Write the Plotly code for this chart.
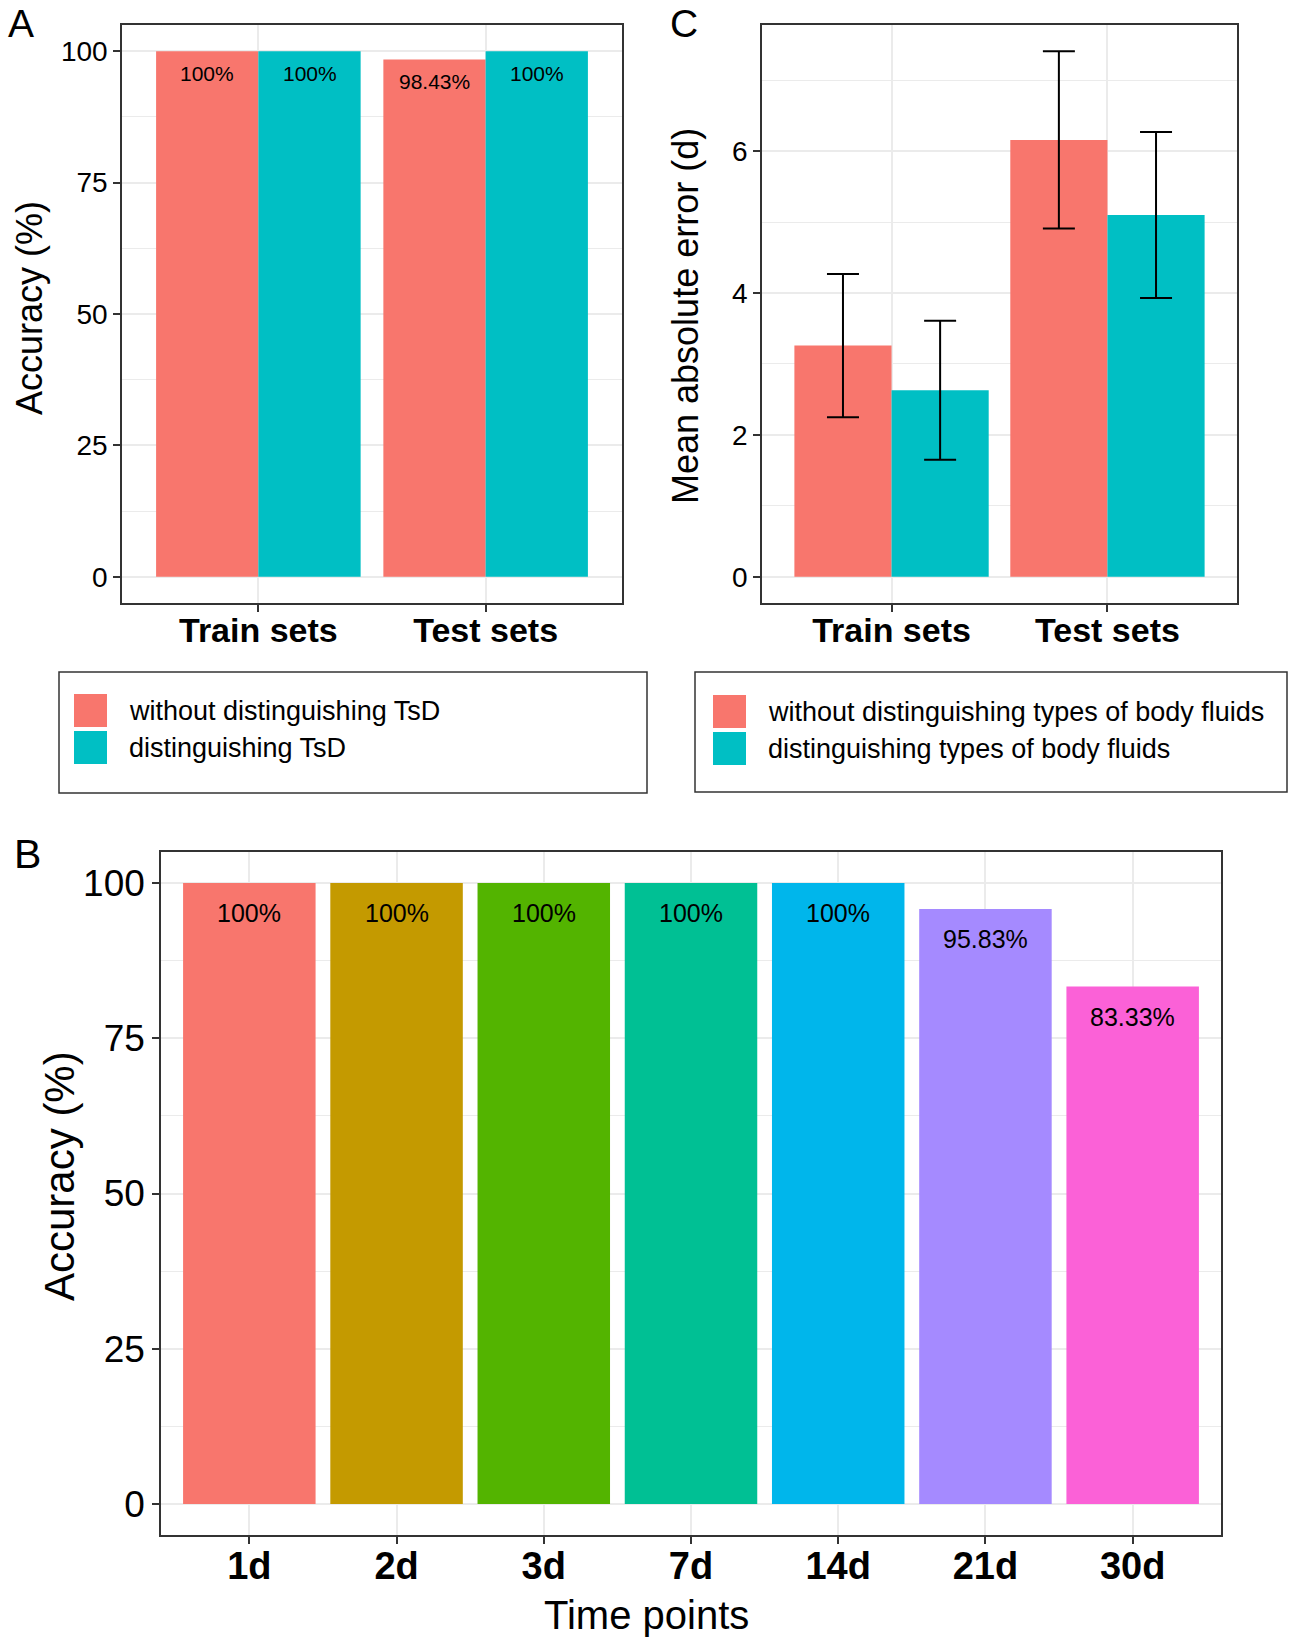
import plotly.graph_objects as go

W, H = 1291, 1639
FONT = "Liberation Sans, Arial, Helvetica, sans-serif"

# ---- data -------------------------------------------------------------
# Panel A: accuracy of time-since-deposition (TsD) prediction
sets = ["Train sets", "Test sets"]
acc_without_tsd = [100, 98.43]
acc_with_tsd = [100, 100]
tsd_names = ["without distinguishing TsD", "distinguishing TsD"]

# Panel C: mean absolute error (days) with spread
mae_without = [3.26, 6.16]
mae_without_sd = [1.01, 1.25]
mae_with = [2.63, 5.10]
mae_with_sd = [0.98, 1.17]
fluid_names = ["without distinguishing types of body fluids",
               "distinguishing types of body fluids"]

# Panel B: accuracy per time point
time_points = ["1d", "2d", "3d", "7d", "14d", "21d", "30d"]
time_acc = [100, 100, 100, 100, 100, 95.83, 83.33]

pair_colors = ["#F8766D", "#00BFC4"]
time_colors = ["#F8766D", "#C49A00", "#53B400", "#00C094",
               "#00B6EB", "#A58AFF", "#FB61D7"]


def px(x):
    return x / W


def py(y):
    return 1 - y / H


def pct(v):
    return f"{v:g}%"


GRID = "#EBEBEB"
BORDER = "#333333"


def yaxis_style(rng, dtick, minor_dtick, domain, size):
    return dict(
        range=rng, domain=domain, dtick=dtick, tick0=0,
        showline=True, mirror=True, linecolor=BORDER, linewidth=1.5,
        ticks="outside", ticklen=7, tickwidth=1.5, tickcolor=BORDER,
        showgrid=True, gridcolor=GRID, gridwidth=2, zeroline=False,
        minor=dict(dtick=minor_dtick, tick0=0, showgrid=True,
                   gridcolor=GRID, gridwidth=1, ticks=""),
        tickfont=dict(family=FONT, size=size, color="black"),
    )


def xaxis_style(n, domain, anchor, size, standoff):
    return dict(
        type="category", range=[-0.6, n - 0.4], domain=domain, anchor=anchor,
        showline=True, mirror=True, linecolor=BORDER, linewidth=1.5,
        ticks="outside", ticklen=7, tickwidth=1.5, tickcolor=BORDER,
        ticklabelstandoff=standoff,
        showgrid=True, gridcolor=GRID, gridwidth=2, zeroline=False,
        tickfont=dict(family=FONT, size=size, color="black", weight="bold"),
    )


fig = go.Figure()

# ---- panel A ---------------------------------------------------------
for vals, name, col in zip([acc_without_tsd, acc_with_tsd], tsd_names, pair_colors):
    fig.add_trace(go.Bar(x=sets, y=vals, name=name, marker_color=col,
                         marker_line_width=0, xaxis="x", yaxis="y",
                         showlegend=False))

# ---- panel C ---------------------------------------------------------
for vals, sd, name, col in zip([mae_without, mae_with],
                               [mae_without_sd, mae_with_sd],
                               fluid_names, pair_colors):
    fig.add_trace(go.Bar(x=sets, y=vals, name=name, marker_color=col,
                         marker_line_width=0, xaxis="x2", yaxis="y2",
                         showlegend=False,
                         error_y=dict(type="data", array=sd, visible=True,
                                      color="black", thickness=2, width=16)))

# ---- panel B ---------------------------------------------------------
fig.add_trace(go.Bar(x=time_points, y=time_acc, marker_color=time_colors,
                     marker_line_width=0, xaxis="x3", yaxis="y3",
                     showlegend=False))

mae_top = max(max(m + s for m, s in zip(mae_without, mae_without_sd)),
              max(m + s for m, s in zip(mae_with, mae_with_sd)))

dom_top = [py(603), py(25)]
fig.update_layout(
    width=W, height=H, margin=dict(l=0, r=0, t=0, b=0),
    paper_bgcolor="white", plot_bgcolor="white",
    barmode="group", bargap=0.1, bargroupgap=0,
    xaxis=xaxis_style(len(sets), [px(122), px(622)], "y", 34, -11),
    yaxis=yaxis_style([-5, 105], 25, 12.5, dom_top, 28),
    xaxis2=xaxis_style(len(sets), [px(762), px(1237)], "y2", 34, -11),
    yaxis2=yaxis_style([-0.05 * mae_top, 1.05 * mae_top], 2, 1, dom_top, 28),
    xaxis3=xaxis_style(len(time_points), [px(161), px(1221)], "y3", 38, -10),
    yaxis3=yaxis_style([-5, 105], 25, 12.5, [py(1535), py(852)], 37),
)
fig.update_layout(yaxis=dict(anchor="x"), yaxis2=dict(anchor="x2"),
                  yaxis3=dict(anchor="x3"))

ann = []

# value labels on panel A bars (dodged pairs)
offset = 0.9 / 4
for i, (a, b) in enumerate(zip(acc_without_tsd, acc_with_tsd)):
    for v, dx in ((a, -offset), (b, offset)):
        ann.append(dict(x=i + dx, y=v, xref="x", yref="y", text=pct(v),
                        showarrow=False, yshift=-22, yanchor="middle",
                        font=dict(family=FONT, size=21, color="black")))

# value labels on panel B bars
for i, v in enumerate(time_acc):
    ann.append(dict(x=i, y=v, xref="x3", yref="y3", text=pct(v),
                    showarrow=False, yshift=-30, yanchor="middle",
                    font=dict(family=FONT, size=25, color="black")))

# panel letters
for letter, x, y, s in (("A", 21, 24, 39), ("C", 684, 24, 39), ("B", 27, 854, 41)):
    ann.append(dict(x=px(x), y=py(y), xref="paper", yref="paper", text=letter,
                    showarrow=False, xanchor="center", yanchor="middle",
                    font=dict(family=FONT, size=s, color="black")))

# axis titles
ann += [
    dict(x=px(30), y=py(308), text="Accuracy (%)", textangle=-90, size=36),
    dict(x=px(686), y=py(316), text="Mean absolute error (d)", textangle=-90, size=36),
    dict(x=px(59), y=py(1176), text="Accuracy (%)", textangle=-90, size=42),
    dict(x=px(646), y=py(1615), text="Time points", textangle=0, size=40),
]
for a in ann[-4:]:
    s = a.pop("size")
    a.update(xref="paper", yref="paper", showarrow=False,
             xanchor="center", yanchor="middle",
             font=dict(family=FONT, size=s, color="black"))

# legends drawn as boxed keys under panels A and C
shapes = []
legends = [
    (tsd_names, (59, 647, 672, 793), 74, [694, 731], 127),
    (fluid_names, (695, 1287, 672, 792), 713, [695, 732], 766),
]
for names, (x0, x1, y0, y1), sx, sys_, tx in legends:
    shapes.append(dict(type="rect", xref="paper", yref="paper",
                       x0=px(x0), x1=px(x1), y0=py(y1), y1=py(y0),
                       line=dict(color=BORDER, width=1.5), fillcolor="white",
                       layer="below"))
    for name, col, sy in zip(names, pair_colors, sys_):
        shapes.append(dict(type="rect", xref="paper", yref="paper",
                           x0=px(sx), x1=px(sx + 33), y0=py(sy + 33), y1=py(sy),
                           line=dict(width=0), fillcolor=col))
        ann.append(dict(x=px(tx), y=py(sy + 17), xref="paper", yref="paper",
                        text=name, showarrow=False, xanchor="left",
                        yanchor="middle",
                        font=dict(family=FONT, size=27, color="black")))

fig.update_layout(annotations=ann, shapes=shapes)
fig.write_html("out.html")
